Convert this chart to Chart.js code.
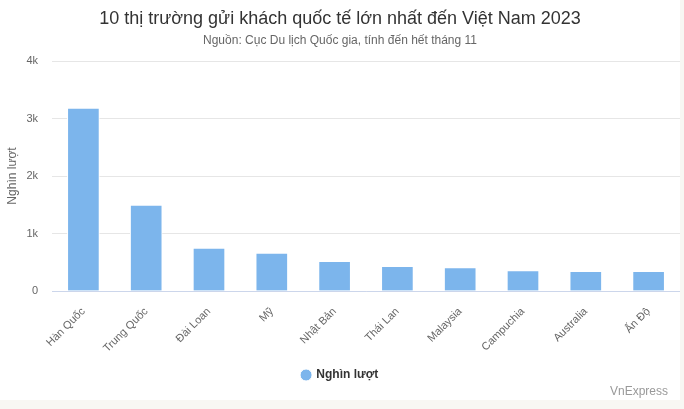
<!DOCTYPE html>
<html>
<head>
<meta charset="utf-8">
<script src="https://cdn.jsdelivr.net/npm/chart.js@4"></script>
<style>
  body { margin: 0; background: #f8f7f3; }
  #box { position: relative; width: 680px; height: 400px; background: #fff; }
  #credit { position: absolute; right: 12px; bottom: 2px; font: 12px "Liberation Sans", Arial, sans-serif; color: #999; }
</style>
</head>
<body>
<div id="box">
  <canvas id="chart"></canvas>
  <div id="credit">VnExpress</div>
</div>
<script>
// Thị trường và lượng khách (nghìn lượt)
const markets = ["Hàn Quốc", "Trung Quốc", "Đài Loan", "Mỹ", "Nhật Bản", "Thái Lan", "Malaysia", "Campuchia", "Australia", "Ấn Độ"];
const visitors = [3183, 1496, 748, 661, 514, 427, 409, 357, 340, 340];
const yTicks = [0, 1000, 2000, 3000, 4000];

const FONT = "'Liberation Sans', Arial, sans-serif";

new Chart(document.getElementById("chart"), {
  type: 'bar',
  data: {
    labels: markets,
    datasets: [{
      label: "Nghìn lượt",
      data: visitors,
      backgroundColor: "#7cb5ec",
      borderColor: "#ffffff",
      borderWidth: 1,
      barThickness: 32
    }]
  },
  options: {
    responsive: true,
    maintainAspectRatio: false,
    animation: false,
    layout: { padding: { left: 0, right: 0, top: 0, bottom: 9 } },
    plugins: {
      title: {
        display: true,
        text: "10 thị trường gửi khách quốc tế lớn nhất đến Việt Nam 2023",
        color: "#333333",
        font: { family: FONT, size: 18, weight: 'normal' },
        padding: { top: 8, bottom: 2 }
      },
      subtitle: {
        display: true,
        text: "Nguồn: Cục Du lịch Quốc gia, tính đến hết tháng 11",
        color: "#666666",
        font: { family: FONT, size: 12 },
        padding: { top: 2, bottom: 13 }
      },
      legend: {
        position: 'bottom',
        labels: {
          usePointStyle: true,
          pointStyle: 'circle',
          boxWidth: 8.5,
          boxHeight: 8.5,
          color: "#333333",
          font: { family: FONT, size: 12, weight: 'bold' },
          padding: 10
        }
      },
      tooltip: { enabled: false }
    },
    scales: {
      x: {
        grid: { display: false },
        border: { color: "#ccd6eb", width: 1 },
        ticks: {
          autoSkip: false,
          minRotation: 45,
          maxRotation: 45,
          padding: 6,
          color: "#666666",
          font: { family: FONT, size: 11 }
        },
        afterFit: s => { s.height = 68; }
      },
      y: {
        min: 0,
        max: 4000,
        afterBuildTicks: s => { s.ticks = yTicks.map(v => ({ value: v })); },
        grid: { color: "#e6e6e6", drawTicks: false },
        border: { display: false },
        ticks: {
          padding: 14,
          color: "#666666",
          font: { family: FONT, size: 11 },
          callback: v => v === 0 ? "0" : (v / 1000) + "k"
        },
        title: {
          display: true,
          text: "Nghìn lượt",
          color: "#666666",
          font: { family: FONT, size: 12 },
          padding: { top: 5, bottom: 0 }
        },
        afterFit: s => { s.width = 52; }
      }
    }
  }
});
</script>
</body>
</html>
